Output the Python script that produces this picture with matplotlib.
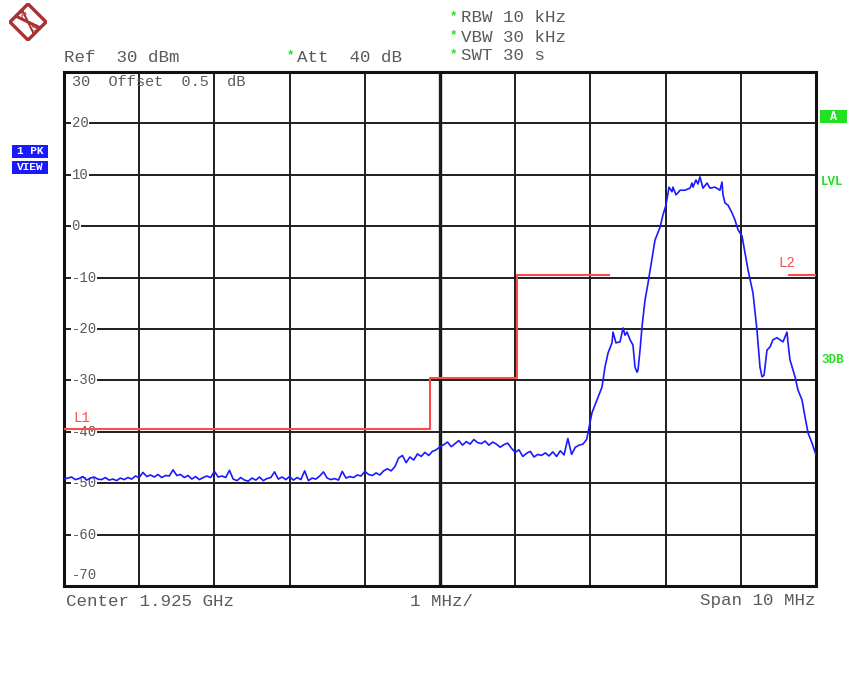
import numpy as np
import matplotlib
matplotlib.use("Agg")
import matplotlib.pyplot as plt
from matplotlib.patches import Polygon, Rectangle

# =====================================================
# Data (frequency offset from centre in MHz, level in dBm)
# =====================================================

noise_start, noise_stop = -5.0, -1.05
noise_levels = [
    -49.2, -49.0, -48.8, -49.3, -49.1, -48.7, -49.4, -49.0, -48.8, -49.2,
    -49.3, -48.9, -49.4, -49.2, -49.5, -49.0, -49.3, -48.9, -49.2, -48.6,
    -48.9, -47.9, -48.7, -48.4, -48.8, -48.3, -48.9, -48.5, -48.6, -47.4,
    -48.5, -48.3, -48.9, -48.5, -49.2, -48.7, -49.3, -48.9, -48.6, -48.9,
    -47.7, -48.8, -48.6, -48.9, -47.5, -49.2, -49.5, -48.9, -49.4, -49.6,
    -49.0, -49.4, -48.8, -49.5, -49.1, -48.9, -47.8, -49.2, -48.8, -49.3,
    -48.7, -49.4, -48.9, -49.3, -47.6, -49.5, -49.0, -49.2, -48.6, -47.8,
    -49.0, -49.3, -49.1, -49.4, -47.7, -49.0, -48.7, -48.9, -48.4, -48.6,
]

shoulder_start, shoulder_stop = -1.0, 1.95
shoulder_levels = [
    -47.7, -48.3, -48.5, -48.0, -48.4, -47.6, -47.2, -47.6, -46.8, -45.1,
    -44.6, -46.0, -44.9, -45.5, -44.3, -44.8, -44.0, -44.6, -43.8, -43.5,
    -42.9, -42.5, -42.0, -42.9, -42.3, -41.7, -42.6, -41.9, -42.4, -41.5,
    -42.1, -42.3, -41.8, -42.6, -42.0, -42.4, -43.0, -42.5, -42.2, -43.2,
    -44.0, -43.5, -44.8, -44.2, -43.8, -44.9, -44.4, -44.6, -44.1, -44.7,
    -43.9, -44.8, -43.7, -44.5, -41.3, -44.4, -43.0, -42.6, -42.4, -41.5,
]

signal_freq = [
    1.968, 2.021, 2.088, 2.154, 2.194, 2.234, 2.287, 2.301, 2.340, 2.394,
    2.434, 2.460, 2.487, 2.527, 2.566, 2.593, 2.620, 2.633, 2.660, 2.686,
    2.726, 2.766, 2.819, 2.859, 2.926, 2.965, 3.005, 3.045, 3.085, 3.098,
    3.138, 3.165, 3.191, 3.258, 3.324, 3.351, 3.364, 3.404, 3.431, 3.457,
    3.497, 3.551, 3.590, 3.657, 3.723, 3.750, 3.763, 3.790, 3.830, 3.883,
    3.923, 3.963, 4.016, 4.056, 4.096, 4.162, 4.215, 4.255, 4.282, 4.309,
    4.348, 4.388, 4.428, 4.481, 4.521, 4.561, 4.614, 4.628, 4.654, 4.721,
    4.761, 4.814, 4.854, 4.894, 4.947, 4.987, 5.000,
]
signal_levels = [
    -40.2, -36.3, -33.8, -31.3, -27.4, -24.7, -22.7, -20.6, -22.7, -22.5,
    -19.8, -21.2, -20.6, -22.1, -23.1, -27.4, -28.4, -28.0, -24.1, -19.6,
    -14.4, -11.1, -6.3, -2.7, -0.2, 2.2, 4.1, 7.6, 6.7, 7.6,
    6.1, 6.5, 7.0, 7.0, 7.4, 8.4, 7.6, 9.0, 8.2, 9.6,
    7.4, 8.4, 7.4, 7.6, 7.0, 8.6, 6.1, 4.5, 4.1, 2.6,
    1.2, -0.7, -1.9, -5.2, -8.5, -13.0, -20.2, -27.4, -29.3, -29.0,
    -24.1, -23.5, -22.1, -21.7, -22.1, -22.5, -20.6, -22.7, -26.0, -29.3,
    -31.9, -33.8, -37.1, -40.2, -42.2, -43.9, -44.5,
]

# limit line L1 (step mask) and L2
l1_freq = [-5.0, -0.13, -0.13, 1.02, 1.02, 2.25]
l1_level = [-39.5, -39.5, -29.5, -29.5, -9.5, -9.5]
l2_freq = [4.64, 5.0]
l2_level = [-9.5, -9.5]

grid_levels = [20, 10, 0, -10, -20, -30, -40, -50, -60]

freq = np.concatenate([
    np.linspace(noise_start, noise_stop, len(noise_levels)),
    np.linspace(shoulder_start, shoulder_stop, len(shoulder_levels)),
    signal_freq,
])
level = np.concatenate([noise_levels, shoulder_levels, signal_levels])

# =====================================================
# Figure
# =====================================================

W, H = 860, 675
MONO = "Liberation Mono"
GREY = "#5a5a5a"
GREEN = "#22e022"
BLUE = "#1a1aff"
RED = "#ff4a4a"

fig = plt.figure(figsize=(W / 100, H / 100), dpi=100)
fig.patch.set_facecolor("white")


def fpos(x, y):
    return x / W, 1 - y / H


ax = fig.add_axes([64 / W, 1 - 586 / H, 752 / W, 514 / H])
ax.set_xlim(-5, 5)
ax.set_ylim(-70, 30)
ax.set_xticks(np.arange(-5, 6, 1))
ax.set_yticks(np.arange(-70, 31, 10))
ax.tick_params(length=0, labelbottom=False, labelleft=False)
ax.grid(True, color="#1e1e1e", lw=1.4, zorder=1)
ax.axvline(0, color="#111111", lw=2.4, zorder=1)
for s in ax.spines.values():
    s.set_linewidth(2.2)
    s.set_color("#111111")

# y labels drawn inside the grid
lfs = 10
for v in grid_levels:
    ax.text(-4.9, v, f"{v}", fontsize=lfs, family=MONO, color=GREY,
            ha="left", va="center", zorder=3,
            bbox=dict(facecolor="white", edgecolor="none", pad=0.6))
ax.text(-4.9, 28.0, "30  Offset  0.5  dB", fontsize=11, family=MONO,
        color=GREY, ha="left", va="center", zorder=3)
ax.text(-4.9, -67.8, "-70", fontsize=lfs, family=MONO, color=GREY,
        ha="left", va="center", zorder=3)

# limit lines
ax.plot(l1_freq, l1_level, color=RED, lw=1.5, zorder=4)
ax.plot(l2_freq, l2_level, color=RED, lw=1.5, zorder=4)
ax.text(-4.88, -38.6, "L1", fontsize=lfs, family=MONO, color=RED,
        ha="left", va="bottom", zorder=4)
ax.text(4.61, -8.6, "L2", fontsize=lfs, family=MONO, color=RED,
        ha="center", va="bottom", zorder=4)

# trace
ax.plot(freq, level, color=BLUE, lw=1.2, zorder=5)

# header texts
fs = 12.6
fig.text(*fpos(64, 57), "Ref  30 dBm", fontsize=fs, family=MONO, color=GREY,
         va="center")
fig.text(*fpos(287, 55), "*", fontsize=9, family=MONO, color=GREEN,
         va="center", weight="bold")
fig.text(*fpos(297, 57), "Att  40 dB", fontsize=fs, family=MONO, color=GREY,
         va="center")
for y, t in [(18, "RBW 10 kHz"), (37, "VBW 30 kHz"), (56, "SWT 30 s")]:
    fig.text(*fpos(450, y - 2), "*", fontsize=9, family=MONO, color=GREEN,
             va="center", weight="bold")
    fig.text(*fpos(461, y), t, fontsize=fs, family=MONO, color=GREY,
             va="center")

# footer texts
fig.text(*fpos(66, 601), "Center 1.925 GHz", fontsize=fs, family=MONO,
         color=GREY, va="center")
fig.text(*fpos(410, 601), "1 MHz/", fontsize=fs, family=MONO, color=GREY,
         va="center")
fig.text(*fpos(700, 601), "Span 10 MHz", fontsize=fs, family=MONO,
         color=GREY, va="center")

# left badges
for (y0, t) in [(145, "1 PK"), (161, "VIEW")]:
    fig.patches.append(Rectangle(fpos(12, y0 + 13), 36 / W, 13 / H,
                                 transform=fig.transFigure,
                                 facecolor=BLUE, edgecolor="none"))
    fig.text(*fpos(30, y0 + 6.5), t, fontsize=8, family=MONO,
             color="white", weight="bold", ha="center", va="center")

# right side markers
fig.patches.append(Rectangle(fpos(820, 123), 27 / W, 13 / H,
                             transform=fig.transFigure,
                             facecolor=GREEN, edgecolor="none"))
fig.text(*fpos(833, 116.5), "A", fontsize=8.5, family=MONO, color="white",
         weight="bold", ha="center", va="center")
fig.text(*fpos(821, 182), "LVL", fontsize=9, family=MONO, color=GREEN,
         weight="bold", va="center")
fig.text(*fpos(821, 360), "3DB", fontsize=9, family=MONO, color=GREEN,
         weight="bold", va="center")

# R&S logo
lg = fig.add_axes([9 / W, 1 - 41 / H, 38 / W, 38 / H])
lg.set_xlim(-1, 1)
lg.set_ylim(-1, 1)
lg.axis("off")
lg.add_patch(Polygon([[0, 0.95], [0.95, 0], [0, -0.95], [-0.95, 0]],
                     closed=True, fill=False, edgecolor="#a83232", lw=2.4))
lg.plot([-0.62, 0.62], [0.30, -0.30], color="#a83232", lw=2.2)
lg.plot([-0.30, 0.30], [0.62, -0.62], color="#a83232", lw=1.4)
lg.text(-0.28, 0.30, "R", fontsize=7, color="#a83232", ha="center",
        va="center", family="DejaVu Serif")
lg.text(0.28, -0.32, "S", fontsize=7, color="#a83232", ha="center",
        va="center", family="DejaVu Serif")

fig.savefig("out.png", dpi=100)
